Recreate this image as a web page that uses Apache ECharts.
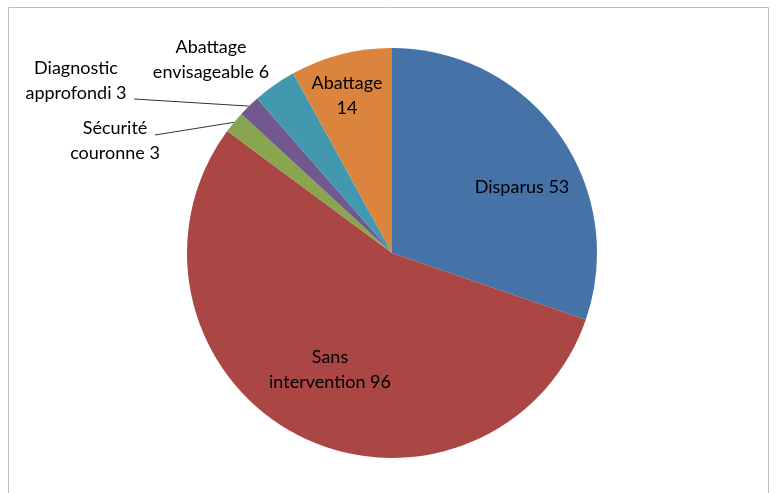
<!DOCTYPE html>
<html>
<head>
<meta charset="utf-8">
<script src="https://cdn.jsdelivr.net/npm/echarts@6/dist/echarts.min.js"></script>
<style>
  html, body { margin: 0; padding: 0; background: #fff; }
  #chart { width: 776px; height: 493px; }
</style>
</head>
<body>
<div id="chart"></div>
<script>
// données du camembert
var names = ['Disparus', 'Sans intervention', 'Sécurité couronne', 'Diagnostic approfondi', 'Abattage envisageable', 'Abattage'];
var values = [53, 96, 3, 3, 6, 14];
var colors = ['#4572A7', '#AA4643', '#89A54E', '#71588F', '#4198AF', '#DB843D'];

// position des étiquettes (comme dans Excel)
var labelSpots = [
    { x: 522, y: 187 },
    { x: 330, y: 370 },
    { x: 115, y: 141, line: [155, 135] },
    { x: 76, y: 81, line: [134, 99] },
    { x: 211, y: 60 },
    { x: 347, y: 96 }
];

var cx = 392, cy = 253, r = 205;
var total = values.reduce(function (a, b) { return a + b; }, 0);

var chart = echarts.init(document.getElementById('chart'));
var option = {
    animation: false,
    graphic: [{
        type: 'rect',
        shape: { x: 8.5, y: 7.5, width: 760, height: 500 },
        style: { fill: 'none', stroke: '#bdbdbd', lineWidth: 1 },
        silent: true
    }],
    series: [{
        type: 'pie',
        center: [cx, cy],
        radius: r,
        startAngle: 90,
        clockwise: true,
        silent: true,
        itemStyle: { borderWidth: 0 },
        data: names.map(function (n, i) {
            return { name: n, value: values[i], itemStyle: { color: colors[i] } };
        }),
        label: {
            show: true,
            position: 'outside',
            fontFamily: 'Lato, sans-serif',
            fontSize: 18,
            lineHeight: 25,
            color: '#000',
            align: 'center',
            formatter: function (p) {
                var txt = p.name + ' ' + p.value;
                if (p.dataIndex === 0) return txt;
                return txt.replace(' ', '\n');
            }
        },
        labelLine: {
            show: true,
            length: 10,
            length2: 10,
            lineStyle: { color: '#333', width: 1 }
        },
        labelLayout: function (params) {
            var i = params.dataIndex;
            var s = labelSpots[i];
            var res = { x: s.x, y: s.y, align: 'center', verticalAlign: 'middle' };
            if (s.line) {
                // point sur le bord de la part
                var before = 0;
                for (var k = 0; k < i; k++) before += values[k];
                var mid = (before + values[i] / 2) / total * Math.PI * 2;
                res.labelLinePoints = [
                    [s.line[0], s.line[1]],
                    [s.line[0], s.line[1]],
                    [cx + r * Math.sin(mid), cy - r * Math.cos(mid)]
                ];
            } else {
                res.labelLinePoints = [[s.x, s.y], [s.x, s.y], [s.x, s.y]];
            }
            return res;
        }
    }]
};
chart.setOption(option);
</script>
</body>
</html>
